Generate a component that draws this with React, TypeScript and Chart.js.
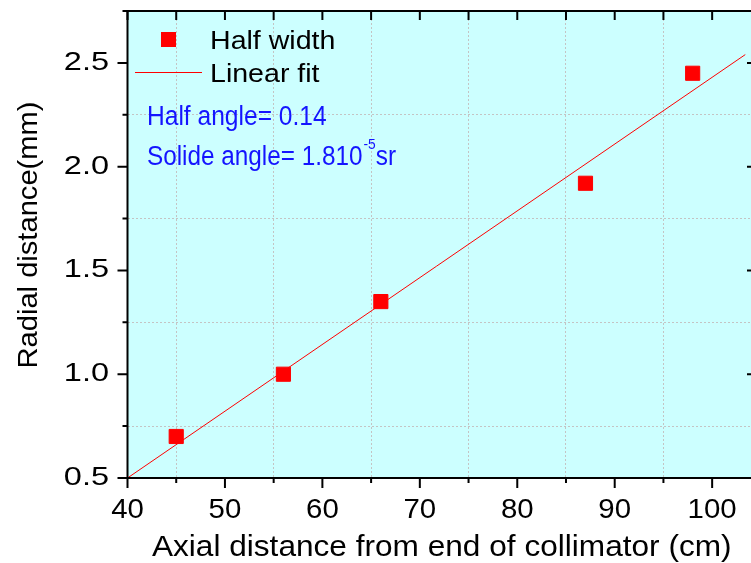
import React, { useEffect, useRef } from "react";
import { Chart, registerables } from "chart.js";

Chart.register(...registerables);

// ---- data ----
const axialCm = [45, 56, 66, 87, 98];
const halfWidthMm = [0.7, 1.0, 1.35, 1.92, 2.45];
const fitX = [40, 103.4];
const fitY = [0.5, 2.54];
const xTickLabels = ["40", "50", "60", "70", "80", "90", "100"];
const yTickLabels = ["0.5", "1.0", "1.5", "2.0", "2.5"];
const seriesLabels = ["Half width", "Linear fit"];
const xTitle = "Axial distance from end of collimator (cm)";
const yTitle = "Radial distance(mm)";
const noteLine1 = "Half angle= 0.14";
const noteLine2 = "Solide angle= 1.810";
const noteSup = "-5";
const noteUnit = "sr";

const FONT = '"Liberation Sans", Arial, sans-serif';

function txt(
  ctx: CanvasRenderingContext2D,
  s: string,
  x: number,
  y: number,
  size: number,
  sx: number,
  align: "left" | "center" | "right",
  color: string
) {
  ctx.save();
  ctx.font = `${size}px ${FONT}`;
  ctx.fillStyle = color;
  ctx.textBaseline = "alphabetic";
  ctx.textAlign = "left";
  const w = ctx.measureText(s).width * sx;
  const x0 = align === "center" ? x - w / 2 : align === "right" ? x - w : x;
  ctx.translate(x0, y);
  ctx.scale(sx, 1);
  ctx.fillText(s, 0, 0);
  ctx.restore();
  return w;
}

const isMult = (v: number, step: number) =>
  Math.abs(v / step - Math.round(v / step)) < 1e-6;

const decorPlugin = {
  id: "decor",
  beforeDraw(chart: any) {
    const { ctx, chartArea: a } = chart;
    ctx.save();
    ctx.fillStyle = "#ffffff";
    ctx.fillRect(0, 0, chart.width, chart.height);
    ctx.fillStyle = "#ccffff";
    ctx.fillRect(a.left, a.top, a.right - a.left, a.bottom - a.top);
    ctx.restore();
  },
  afterDraw(chart: any) {
    const { ctx, chartArea: a } = chart;
    const xs = chart.scales.x;
    const ys = chart.scales.y;
    ctx.save();
    // frame
    ctx.strokeStyle = "#000";
    ctx.lineWidth = 2;
    ctx.strokeRect(a.left, a.top, a.right - a.left, a.bottom - a.top);
    ctx.beginPath();
    // x ticks
    for (let v = 40; v <= 104; v += 5) {
      const px = xs.getPixelForValue(v);
      const major = isMult(v, 10);
      ctx.moveTo(px, a.bottom);
      ctx.lineTo(px, a.bottom + (major ? 10 : 5));
      ctx.moveTo(px, a.top);
      ctx.lineTo(px, a.top + 9);
    }
    // y ticks
    for (let v = 0.5; v <= 2.76; v += 0.25) {
      const py = ys.getPixelForValue(v);
      const major = isMult(v, 0.5);
      ctx.moveTo(a.left, py);
      ctx.lineTo(a.left - (major ? 10 : 5), py);
      if (major) {
        ctx.moveTo(a.right, py);
        ctx.lineTo(a.right - 9, py);
      }
    }
    ctx.stroke();
    ctx.restore();

    // tick labels
    xTickLabels.forEach((l) => {
      txt(ctx, l, xs.getPixelForValue(parseFloat(l)), 518, 28, 1.05, "center", "#000");
    });
    yTickLabels.forEach((l) => {
      txt(ctx, l, 109, ys.getPixelForValue(parseFloat(l)) + 7, 25, 1.3, "right", "#000");
    });

    // axis titles
    txt(ctx, xTitle, (a.left + a.right) / 2, 556, 29, 1.09, "center", "#000");
    ctx.save();
    ctx.translate(37, 235);
    ctx.rotate(-Math.PI / 2);
    txt(ctx, yTitle, 0, 0, 28, 1.04, "center", "#000");
    ctx.restore();

    // legend
    const ds0 = chart.data.datasets[0];
    const ds1 = chart.data.datasets[1];
    ctx.save();
    ctx.fillStyle = ds0.backgroundColor;
    ctx.fillRect(161, 32, 15, 15);
    ctx.strokeStyle = ds1.borderColor;
    ctx.lineWidth = 1;
    ctx.beginPath();
    ctx.moveTo(135, 72.5);
    ctx.lineTo(202, 72.5);
    ctx.stroke();
    ctx.restore();
    txt(ctx, ds0.label, 210, 49, 25.5, 1.12, "left", "#000");
    txt(ctx, ds1.label, 210, 82, 25.5, 1.12, "left", "#000");

    // annotation
    const blue = "#1414ff";
    txt(ctx, noteLine1, 147, 125, 27, 0.91, "left", blue);
    const w2 = txt(ctx, noteLine2, 147, 165, 27, 0.9, "left", blue);
    const w3 = txt(ctx, noteSup, 147 + w2 + 1, 149, 15, 0.92, "left", blue);
    txt(ctx, noteUnit, 147 + w2 + 1 + w3, 165, 27, 0.9, "left", blue);
  },
};

const gridColor = (step: number) => (c: any) =>
  c.tick && isMult(c.tick.value, step / 2) && !isMult(c.tick.value, step)
    ? "#c4c4c4"
    : "rgba(0,0,0,0)";

export default function App() {
  const ref = useRef<HTMLCanvasElement | null>(null);
  useEffect(() => {
    if (!ref.current) return;
    const chart = new Chart(ref.current, {
      type: "scatter",
      data: {
        datasets: [
          {
            label: seriesLabels[0],
            data: axialCm.map((x, i) => ({ x, y: halfWidthMm[i] })),
            pointStyle: "rect",
            pointRadius: 10,
            pointHoverRadius: 10,
            backgroundColor: "#ff0000",
            borderColor: "#ff0000",
            borderWidth: 1,
            showLine: false,
            order: 1,
          },
          {
            type: "line",
            label: seriesLabels[1],
            data: fitX.map((x, i) => ({ x, y: fitY[i] })),
            borderColor: "#ff0000",
            backgroundColor: "#ff0000",
            borderWidth: 1,
            pointRadius: 0,
            showLine: true,
            fill: false,
            order: 2,
          } as any,
        ],
      },
      options: {
        responsive: false,
        animation: false,
        devicePixelRatio: 1,
        layout: { padding: { top: 8, right: 14, left: 0, bottom: 0 } },
        plugins: {
          legend: { display: false },
          tooltip: { enabled: false },
          title: { display: false },
        },
        scales: {
          x: {
            type: "linear",
            position: "bottom",
            min: 40,
            max: 104.5,
            ticks: { stepSize: 5, display: false },
            border: { display: false, dash: [2, 2] },
            grid: {
              drawTicks: false,
              lineWidth: 1,
              color: gridColor(10),
            } as any,
            afterFit: (s: any) => {
              s.height = 85;
            },
          },
          y: {
            type: "linear",
            position: "left",
            min: 0.5,
            max: 2.75,
            ticks: { stepSize: 0.25, display: false },
            border: { display: false, dash: [2, 2] },
            grid: {
              drawTicks: false,
              lineWidth: 1,
              color: gridColor(0.5),
            } as any,
            afterFit: (s: any) => {
              s.width = 127.5;
            },
          },
        },
      },
      plugins: [decorPlugin],
    });
    return () => chart.destroy();
  }, []);
  return (
    <div
      style={{
        position: "fixed",
        left: 0,
        top: 0,
        width: 751,
        height: 563,
        overflow: "hidden",
        background: "#fff",
      }}
    >
      <canvas ref={ref} width={770} height={563} style={{ display: "block" }} />
    </div>
  );
}
